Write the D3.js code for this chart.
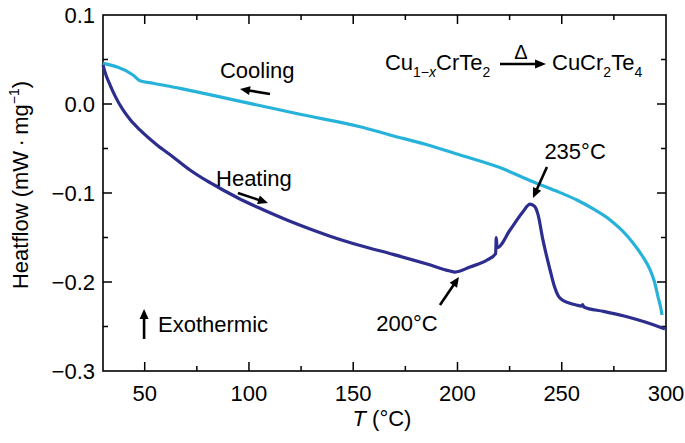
<!DOCTYPE html>
<html><head><meta charset="utf-8">
<script src="https://cdn.jsdelivr.net/npm/d3@7"></script>
<style>html,body{margin:0;padding:0;background:#fff}svg{display:block;font-family:"Liberation Sans",Arial,sans-serif}</style>
</head><body><svg id="c" width="685" height="443"></svg>
<script>
// ---- data (T in °C, heat flow in mW·mg^-1) ----
const coolingT = [30,44.4,47.7,54,66.9,85,103.9,125,153.3,167.6,185,201.2,220,236.2,246.8,257.3,265.5,273.2,278.9,284.2,288.5,292.4,294.5,296.2,297.3,298.1];
const coolingV = [0.0457,0.0326,0.0262,0.0233,0.0176,0.0085,-0.0011,-0.0118,-0.0255,-0.0348,-0.0455,-0.0573,-0.0712,-0.0873,-0.0972,-0.1079,-0.1185,-0.1303,-0.1421,-0.1562,-0.1702,-0.1865,-0.2000,-0.2169,-0.2270,-0.2371];
const heatingT = [30,31.5,33.4,36,39.6,43,47.7,55.9,63.6,71.7,79.9,87.6,94.7,103.9,108.7,118.2,129.3,138.9,153.3,169.1,185.4,196.4,198.8,206,214.2,218.3,218.6,219.0,225.2,231.4,234.8,237.0,238.6,241,244.4,246.5,248.3,250.5,253.5,257,259.5,260,260.6,270,281.3,290,299.5];
const heatingV = [0.0438,0.032,0.0213,0.0080,-0.0067,-0.0175,-0.0292,-0.0461,-0.0595,-0.0742,-0.0865,-0.0966,-0.1056,-0.1158,-0.1208,-0.1303,-0.1404,-0.1485,-0.1590,-0.1690,-0.1798,-0.1876,-0.1888,-0.1831,-0.1753,-0.1680,-0.1500,-0.1615,-0.1416,-0.1210,-0.1124,-0.1150,-0.1240,-0.1530,-0.1865,-0.2050,-0.2155,-0.2205,-0.2235,-0.2258,-0.2270,-0.2255,-0.2280,-0.2330,-0.2390,-0.2450,-0.2528];
const xMajorTicks = [50,100,150,200,250,300];
const xMinorTicks = [75,125,175,225,275];
const yMajorTicks = [0.1,0.0,-0.1,-0.2,-0.3];
const yMinorTicks = [0.05,-0.05,-0.15,-0.25];
const yTickLabels = ["0.1","0.0","\u22120.1","\u22120.2","\u22120.3"];
// annotations [text, T, value]
const labelCooling = ["Cooling", 86.1, 0.029];
const labelHeating = ["Heating", 84.2, -0.0921];
const label235 = ["235\u00B0C", 256.4, -0.0618];
const label200 = ["200\u00B0C", 175.8, -0.255];
const labelExo = ["Exothermic", 56.4, -0.2562];
// arrows [T0, v0, T1, v1]
const arrows = [
  [110.1, 0.0112, 95.7, 0.0169],
  [94.7, -0.1000, 109.1, -0.1112],
  [242.9, -0.0708, 236.2, -0.1056],
  [191.6, -0.2258, 200.7, -0.1944],
  [49.7, -0.2640, 49.7, -0.2303]
];
const formulaPos = [165.2, 0.0382];

const svg = d3.select("#c");
const x = d3.scaleLinear().domain([30,300]).range([103,666]);
const y = d3.scaleLinear().domain([-0.3,0.1]).range([371,15]);
const FS = 22;

// frame
svg.append("rect").attr("x",x(30)).attr("y",y(0.1)).attr("width",x(300)-x(30)).attr("height",y(-0.3)-y(0.1))
  .attr("fill","none").attr("stroke","#000").attr("stroke-width",1.6);

const tk = svg.append("g").attr("stroke","#000").attr("stroke-width",1.5);
function xt(vals,len){vals.forEach(v=>{
  tk.append("line").attr("x1",x(v)).attr("x2",x(v)).attr("y1",y(-0.3)).attr("y2",y(-0.3)-len);
  tk.append("line").attr("x1",x(v)).attr("x2",x(v)).attr("y1",y(0.1)).attr("y2",y(0.1)+len);});}
function yt(vals,len){vals.forEach(v=>{
  tk.append("line").attr("y1",y(v)).attr("y2",y(v)).attr("x1",x(30)).attr("x2",x(30)+len);
  tk.append("line").attr("y1",y(v)).attr("y2",y(v)).attr("x1",x(300)).attr("x2",x(300)-len);});}
xt(xMajorTicks.filter(v=>v<300),9); xt(xMinorTicks,5);
yt(yMajorTicks.filter(v=>v<0.1 && v>-0.3),9); yt(yMinorTicks,5);

xMajorTicks.forEach(v=>svg.append("text").attr("x",x(v)).attr("y",401).attr("text-anchor","middle").attr("font-size",FS).text(v));
yMajorTicks.forEach((v,i)=>svg.append("text").attr("x",x(30)-8).attr("y",y(v)+8).attr("text-anchor","end").attr("font-size",FS).text(yTickLabels[i]));

// axis titles
const xl = svg.append("text").attr("x",382).attr("y",426).attr("text-anchor","middle").attr("font-size",FS);
xl.append("tspan").attr("font-style","italic").text("T");
xl.append("tspan").text(" (\u00B0C)");
const yl = svg.append("text").attr("transform","translate(28,185) rotate(-90)").attr("text-anchor","middle").attr("font-size",FS);
yl.append("tspan").text("Heatflow (mW\u2009\u00B7\u2009mg");
yl.append("tspan").attr("font-size",14).attr("dy",-9).text("\u22121");
yl.append("tspan").attr("dy",9).text(")");

// curves
const line = d3.line().x(d=>x(d[0])).y(d=>y(d[1])).curve(d3.curveMonotoneX);
svg.append("path").datum(coolingT.map((t,i)=>[t,coolingV[i]])).attr("d",line)
  .attr("fill","none").attr("stroke","#27b2da").attr("stroke-width",3.2).attr("stroke-linejoin","round");
svg.append("path").datum(heatingT.map((t,i)=>[t,heatingV[i]])).attr("d",line)
  .attr("fill","none").attr("stroke","#2c2d8e").attr("stroke-width",3.2).attr("stroke-linejoin","round");

// annotations
[labelCooling,labelHeating,labelExo].forEach(a=>svg.append("text").attr("x",x(a[1])).attr("y",y(a[2])).attr("font-size",FS).text(a[0]));
[label235,label200].forEach(a=>svg.append("text").attr("x",x(a[1])).attr("y",y(a[2])).attr("text-anchor","middle").attr("font-size",FS).text(a[0]));

function arrow(x0,y0,x1,y1,hl,hw){
  const dx=x1-x0, dy=y1-y0, L=Math.hypot(dx,dy), ux=dx/L, uy=dy/L;
  const bx=x1-ux*hl, by=y1-uy*hl;
  svg.append("line").attr("x1",x0).attr("y1",y0).attr("x2",bx+ux*1).attr("y2",by+uy*1).attr("stroke","#000").attr("stroke-width",2.6);
  svg.append("path").attr("d",`M${x1},${y1}L${bx-uy*hw/2},${by+ux*hw/2}L${bx+uy*hw/2},${by-ux*hw/2}Z`).attr("fill","#000");
}
arrows.forEach(a=>arrow(x(a[0]),y(a[1]),x(a[2]),y(a[3]),10,9));

// formula
const fx = x(formulaPos[0]), fy = y(formulaPos[1]);
const f1 = svg.append("text").attr("x",fx).attr("y",fy).attr("font-size",FS);
f1.append("tspan").text("Cu");
f1.append("tspan").attr("font-size",14).attr("dy",7).text("1\u2212");
f1.append("tspan").attr("font-size",14).attr("font-style","italic").text("x");
f1.append("tspan").attr("dy",-7).text("CrTe");
f1.append("tspan").attr("font-size",14).attr("dy",7).text("2");
arrow(500,fy-6,546,fy-6,11,9);
svg.append("text").attr("x",521).attr("y",fy-11).attr("text-anchor","middle").attr("font-size",20).text("\u0394");
const f2 = svg.append("text").attr("x",552).attr("y",fy).attr("font-size",FS);
f2.append("tspan").text("CuCr");
f2.append("tspan").attr("font-size",14).attr("dy",7).text("2");
f2.append("tspan").attr("dy",-7).text("Te");
f2.append("tspan").attr("font-size",14).attr("dy",7).text("4");
</script></body></html>
